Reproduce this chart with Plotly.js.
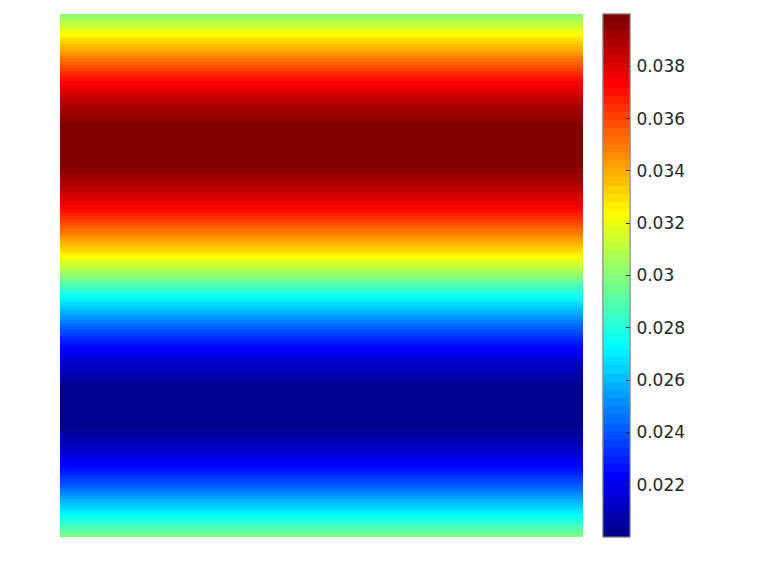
<!DOCTYPE html>
<html>
<head>
<meta charset="utf-8">
<script src="https://cdn.plot.ly/plotly-3.0.1.min.js"></script>
<style>
  html, body { margin: 0; padding: 0; background: #fff; }
  #plot { width: 768px; height: 576px; }
</style>
</head>
<body>
<div id="plot"></div>
<script>
// ============================================
// DATA
// ============================================

// row positions, top (0) to bottom (1)
const rowPos = [
    0.0000, 0.0208, 0.0417, 0.0625, 0.0833, 0.1042, 0.1250, 0.1458,
    0.1667, 0.1875, 0.2083, 0.2292, 0.2500, 0.2708, 0.2917, 0.3125,
    0.3333, 0.3542, 0.3750, 0.3958, 0.4167, 0.4375, 0.4583, 0.4792,
    0.5000, 0.5208, 0.5417, 0.5625, 0.5833, 0.6042, 0.6250, 0.6458,
    0.6667, 0.6875, 0.7083, 0.7292, 0.7500, 0.7708, 0.7917, 0.8125,
    0.8333, 0.8542, 0.8750, 0.8958, 0.9167, 0.9375, 0.9583, 0.9792,
    1.0000
];

// value per row (same across the width)
const rowValues = [
    0.0300, 0.0313, 0.0326, 0.0338, 0.0350, 0.0361, 0.0371, 0.0379,
    0.0387, 0.0392, 0.0397, 0.0399, 0.0400, 0.0399, 0.0397, 0.0392,
    0.0387, 0.0379, 0.0371, 0.0361, 0.0350, 0.0338, 0.0326, 0.0313,
    0.0300, 0.0287, 0.0274, 0.0262, 0.0250, 0.0239, 0.0229, 0.0221,
    0.0213, 0.0208, 0.0203, 0.0201, 0.0200, 0.0201, 0.0203, 0.0208,
    0.0213, 0.0221, 0.0229, 0.0239, 0.0250, 0.0262, 0.0274, 0.0287,
    0.0300
];

const colPos = [0, 1];

const tickVals = [0.022, 0.024, 0.026, 0.028, 0.030, 0.032, 0.034, 0.036, 0.038];
const tickLabels = ["0.022", "0.024", "0.026", "0.028", "0.03", "0.032", "0.034", "0.036", "0.038"];

// ============================================
// JET 64 (matlab style, discrete)
// ============================================

function jetScale(m) {
    const n = Math.ceil(m / 4);
    const u = [];
    for (let i = 1; i <= n; i++) u.push(i / n);
    for (let i = 1; i < n; i++) u.push(1);
    for (let i = n; i >= 1; i--) u.push(i / n);

    const R = new Array(m).fill(0);
    const G = new Array(m).fill(0);
    const B = new Array(m).fill(0);
    const off = Math.ceil(n / 2) - (m % 4 === 1 ? 1 : 0);

    let gIdx = [], rIdx = [], bIdx = [];
    for (let j = 1; j <= u.length; j++) {
        const g = off + j;
        if (g <= m) gIdx.push(g);
        if (g + n <= m) rIdx.push(g + n);
        if (g - n >= 1) bIdx.push(g - n);
    }
    rIdx.forEach((r, k) => { R[r - 1] = u[k]; });
    gIdx.forEach((g, k) => { G[g - 1] = u[k]; });
    bIdx.forEach((b, k) => { B[b - 1] = u[u.length - bIdx.length + k]; });

    const scale = [];
    for (let i = 0; i < m; i++) {
        const c = `rgb(${Math.round(255 * R[i])},${Math.round(255 * G[i])},${Math.round(255 * B[i])})`;
        scale.push([i / m, c]);
        scale.push([(i + 1) / m, c]);
    }
    return scale;
}

const jet = jetScale(64);
const z = rowValues.map(v => colPos.map(() => v));

const barBase = {
    x: 1.0382,
    xanchor: "left",
    xpad: 0,
    y: 0.5,
    yanchor: "middle",
    len: 1,
    lenmode: "fraction",
    ypad: 0,
    thickness: 27,
    thicknessmode: "pixels",
    outlinewidth: 1,
    outlinecolor: "#8a8a8a",
    tickmode: "array",
    tickvals: tickVals,
    ticktext: tickLabels,
    tickfont: { family: "DejaVu Sans", size: 17, color: "#262626" }
};

// colorbar carrying the labels
const labelTrace = {
    type: "heatmap",
    x: colPos,
    y: rowPos,
    z: z,
    zmin: 0.02,
    zmax: 0.04,
    zsmooth: "best",
    colorscale: jet,
    showscale: true,
    colorbar: Object.assign({}, barBase, {
        ticks: "outside",
        ticklen: 3,
        tickcolor: "rgba(0,0,0,0)",
        showticklabels: true
    })
};

// same field, colorbar with the inside tick marks
const mainTrace = {
    type: "heatmap",
    x: colPos,
    y: rowPos,
    z: z,
    zmin: 0.02,
    zmax: 0.04,
    zsmooth: "best",
    colorscale: jet,
    showscale: true,
    colorbar: Object.assign({}, barBase, {
        ticks: "inside",
        ticklen: 4,
        tickwidth: 1,
        tickcolor: "#262626",
        showticklabels: false
    })
};

const layout = {
    width: 768,
    height: 576,
    margin: { l: 60, r: 185, t: 14, b: 39 },
    paper_bgcolor: "#ffffff",
    plot_bgcolor: "#ffffff",
    xaxis: {
        range: [0, 1],
        visible: false,
        showgrid: false,
        zeroline: false
    },
    yaxis: {
        range: [1, 0],
        visible: false,
        showgrid: false,
        zeroline: false
    },
    showlegend: false
};

Plotly.newPlot("plot", [labelTrace, mainTrace], layout, { staticPlot: true, displayModeBar: false });
</script>
</body>
</html>
